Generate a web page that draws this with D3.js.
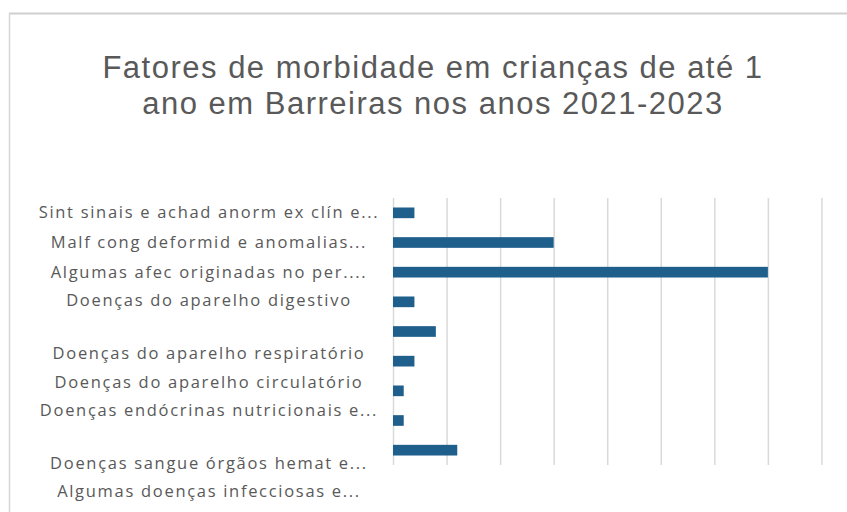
<!DOCTYPE html>
<html>
<head>
<meta charset="utf-8">
<script src="https://cdn.jsdelivr.net/npm/d3@7/dist/d3.min.js"></script>
<style>
  html, body { margin: 0; padding: 0; background: #ffffff; }
  svg { display: block; }
</style>
</head>
<body>
<svg id="chart" width="847" height="512"></svg>
<script>
// Morbidity causes, infants up to 1 year, Barreiras 2021-2023 (top to bottom)
const categories = [
  "Sint sinais e achad anorm ex clín e...",
  "Malf cong deformid e anomalias...",
  "Algumas afec originadas no per....",
  "Doenças do aparelho digestivo",
  "Doenças do aparelho respiratório",
  "Doenças do aparelho circulatório",
  "Doenças endócrinas nutricionais e...",
  "Doenças sangue órgãos hemat e...",
  "Algumas doenças infecciosas e..."
];
const values = [2, 15, 35, 2, 4, 2, 1, 1, 6];
const xTicks = [0, 5, 10, 15, 20, 25, 30, 35, 40, 45];
const titleLines = [
  "Fatores de morbidade em crianças de até 1",
  "ano em Barreiras nos anos 2021-2023"
];

// Layout
const W = 847, H = 512;
const plot = { left: 393, right: 875, top: 198, bottom: 465 };
// Category label vertical nudges (px) as the labels are laid out in the source chart
const labelNudge = [-1, 0, 0, -2, 21.5, 21.5, 19, 42.5, 41.5];
const labelCenterX = 209;

const svg = d3.select("#chart");

// Chart frame (top and left edges visible)
svg.append("line")
  .attr("x1", 9).attr("x2", W).attr("y1", 13.5).attr("y2", 13.5)
  .attr("stroke", "#cfcfcf").attr("stroke-width", 2);
svg.append("line")
  .attr("x1", 9.5).attr("x2", 9.5).attr("y1", 13).attr("y2", H)
  .attr("stroke", "#d6d6d6").attr("stroke-width", 1.5);

// Title
svg.append("g")
  .selectAll("text")
  .data(titleLines)
  .join("text")
  .attr("x", 433)
  .attr("y", (d, i) => 78 + i * 35.5)
  .attr("text-anchor", "middle")
  .attr("font-family", "'Liberation Sans', Arial, sans-serif")
  .attr("font-size", 31)
  .attr("letter-spacing", 1.5)
  .attr("fill", "#595959")
  .text(d => d);

const x = d3.scaleLinear().domain([0, 45]).range([plot.left, plot.right]);
const y = d3.scaleBand().domain(categories).range([plot.top, plot.bottom])
  .paddingInner(0.64).paddingOuter(0.32);

// Vertical gridlines
svg.append("g")
  .attr("transform", `translate(0,${plot.bottom})`)
  .call(d3.axisBottom(x).tickValues(xTicks).tickSize(-(plot.bottom - plot.top)).tickFormat(""))
  .call(g => g.select(".domain").remove())
  .call(g => g.selectAll(".tick line").attr("stroke", "#d9d9d9").attr("stroke-width", 1.5));

// Bars
svg.append("g")
  .selectAll("rect")
  .data(values)
  .join("rect")
  .attr("x", x(0))
  .attr("y", (d, i) => y(categories[i]))
  .attr("width", d => x(d) - x(0))
  .attr("height", y.bandwidth())
  .attr("fill", "#1f5f8b");

// Category labels
svg.append("g")
  .selectAll("text")
  .data(categories)
  .join("text")
  .attr("x", labelCenterX)
  .attr("y", (d, i) => y(d) + y.bandwidth() / 2 + labelNudge[i])
  .attr("dy", "0.35em")
  .attr("text-anchor", "middle")
  .attr("font-family", "'Open Sans', sans-serif")
  .attr("font-size", 16.5)
  .attr("letter-spacing", 1.7)
  .attr("fill", "#595959")
  .text(d => d);
</script>
</body>
</html>
